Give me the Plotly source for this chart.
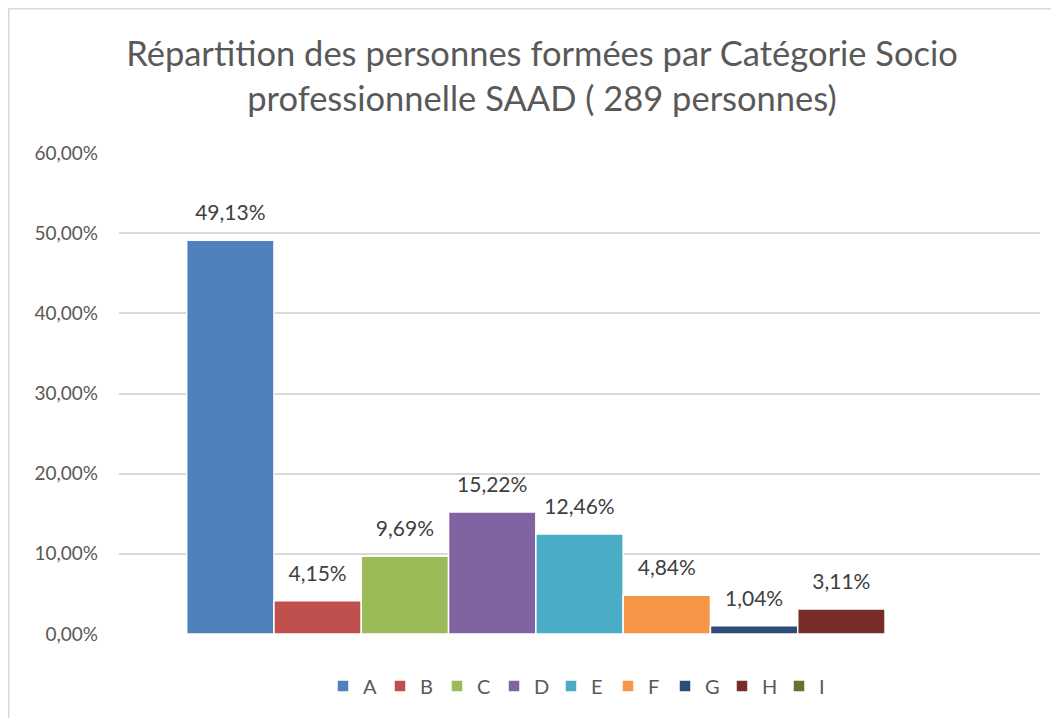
import plotly.graph_objects as go

categories = ["A", "B", "C", "D", "E", "F", "G", "H", "I"]
values = [0.4913, 0.0415, 0.0969, 0.1522, 0.1246, 0.0484, 0.0104, 0.0311, None]
colors = ["#4F81BD", "#C0504D", "#9BBB59", "#8064A2", "#4BACC6",
          "#F79646", "#2C4D75", "#772C2A", "#5F7530"]
group_label = ["CSP"]
y_ticks = [0, 0.1, 0.2, 0.3, 0.4, 0.5, 0.6]

FONT = "Lato, 'Open Sans', sans-serif"

fig = go.Figure()
for name, v, c in zip(categories, values, colors):
    fig.add_trace(go.Bar(
        x=group_label, y=[v], name=name, offsetgroup=name,
        marker=dict(color=c, line=dict(color="white", width=1.5)),
    ))
for name, v in zip(categories, values):
    fig.add_trace(go.Scatter(
        x=group_label, y=[v], offsetgroup=name, showlegend=False,
        mode="markers+text", texttemplate="%{y:.2%}", textposition="top center",
        marker=dict(size=22, opacity=0),
        textfont=dict(family=FONT, size=21, color="#404040"),
        cliponaxis=False, hoverinfo="skip",
    ))

# page is offset by the 8px body margin
W, H = 1051, 710
L, R, T, B = 111, 19, 145, 84
pw, ph = W - L - R, H - T - B

def px(x):
    return (x - 8 - L) / pw

def py(y):
    return (H - B - (y - 8)) / ph

fig.update_layout(
    width=W, height=H,
    margin=dict(l=L, r=R, t=T, b=B),
    paper_bgcolor="white", plot_bgcolor="white",
    separators=", ",
    barmode="group", bargap=0.147, bargroupgap=0.0,
    scattermode="group", scattergap=0.147,
    title=dict(
        text="Répartition des personnes formées par Catégorie Socio<br>professionnelle SAAD ( 289 personnes)",
        xref="container", x=(542 - 8) / W, xanchor="center",
        yref="container", y=1 - 58 / H, yanchor="top",
        font=dict(family=FONT, size=34.5, color="#595959"),
    ),
    xaxis=dict(showticklabels=False, showgrid=False, zeroline=False,
               showline=False, ticks=""),
    yaxis=dict(range=[0, 0.6], tickvals=y_ticks, tickformat=".2%",
               showgrid=True, gridcolor="#D9D9D9", gridwidth=1.5,
               zeroline=False, showline=False, ticks="",
               ticklabelstandoff=20,
               tickfont=dict(family=FONT, size=19, color="#595959")),
    legend=dict(orientation="h", x=0.5, xanchor="center",
                y=py(686), yanchor="middle", itemwidth=30,
                entrywidth=12, entrywidthmode="pixels",
                font=dict(family=FONT, size=20, color="#595959"),
                traceorder="normal"),
    showlegend=True,
)

# chart-area border (Excel style)
fig.add_shape(type="line", xref="paper", yref="paper",
              x0=px(7), x1=px(1070), y0=py(8), y1=py(8),
              line=dict(color="#D9D9D9", width=3))
fig.add_shape(type="line", xref="paper", yref="paper",
              x0=px(8), x1=px(8), y0=py(8), y1=py(730),
              line=dict(color="#D9D9D9", width=3))

fig.write_html("out.html")
